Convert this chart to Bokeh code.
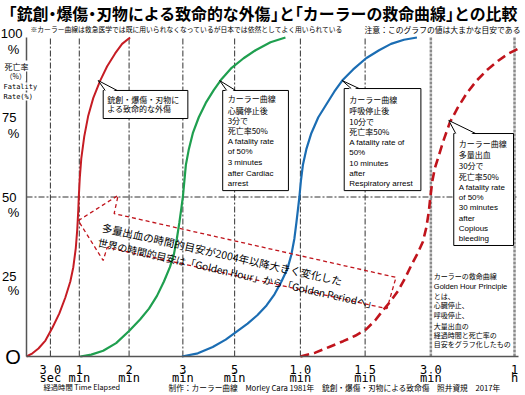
from bokeh.plotting import figure
from bokeh.models import Range1d, FixedTicker, Label, ColumnDataSource, LinearAxis
from bokeh.core.properties import value
from bokeh.embed import file_html
from bokeh.resources import INLINE

JP = "Noto Sans CJK JP"
EN = "Liberation Sans"
MONO = "DejaVu Sans Mono"

# ---------------- data ----------------
title = "「銃創・爆傷・刃物による致命的な外傷」と「カーラーの救命曲線」との比較"
note_left = "※カーラー曲線は救急医学では既に用いられなくなっているが日本では依然としてよく用いられている"
note_right = "注意：このグラフの値は大まかな目安である"
footer_left = "経過時間 Time Elapsed"
footer_right = "制作：カーラー曲線　Morley Cara 1981年　銃創・爆傷・刃物による致命傷　照井資規　2017年"

# irregular time axis: position of each labelled elapsed time
tick_pos = [24, 53, 103, 157, 209, 275, 340, 406, 490]
tick_numbers = ["3 0", "1", "2", "3", "5", "1 0", "1 5", "3 0", "1"]
tick_units = ["sec", "min", "min", "min", "min", "min", "min", "min", "h"]
y_ticks = [0, 25, 50, 75, 100]
y_tick_labels = ["", "25", "50", "75", ""]
x_end, y_end = 494, 100

# fatality (%) curves (axis position, %)
trauma_x = [0, 6, 12, 19, 26, 33, 39, 44, 47, 49.5, 51, 52, 52.5, 53.5, 55, 58, 62, 67, 74, 81, 89, 96, 104]
trauma_y = [0, 1, 2.5, 5, 9, 13.5, 18.5, 23.5, 28, 34, 40, 46, 50, 56, 62, 69, 75.5, 81, 86.5, 91, 95, 98, 100]

cardiac_x = [54, 65, 77, 90, 103, 114, 123, 131, 138, 144, 148, 151, 153.5, 155.5, 157, 158.5, 160, 163, 167, 173, 180, 188, 196, 206, 218, 230, 245, 260]
cardiac_y = [0, 0.6, 1.8, 4.2, 8, 11.6, 15, 19, 23.5, 28, 32, 37, 42, 46.5, 50, 55, 60, 65, 70, 75, 79.5, 83.5, 87, 90.5, 93.5, 96, 98.5, 100]

resp_x = [156, 172, 187, 200, 211, 222, 232, 241, 249, 256, 262, 266, 269, 271, 272.5, 274, 275.5, 277.5, 281, 286, 293, 301, 309, 317, 328, 341, 354, 366, 379, 392]
resp_y = [0, 1, 3, 5.3, 7.8, 10.3, 13, 16, 19.5, 23.5, 27.5, 32, 37, 42, 46, 50, 55, 60, 65, 70, 75, 79, 83, 86.5, 90, 93.5, 96, 98, 99.3, 100]

bleed_x = [275, 290, 304, 318, 330, 341, 350, 358, 366, 373, 380, 387, 393, 398, 401.5, 404, 405.5, 407.5, 410, 414, 419, 425, 433, 442, 452, 463, 474, 484, 494]
bleed_y = [0, 1.2, 3, 4.8, 6.5, 8.5, 11.3, 14.5, 17.5, 20.5, 24.5, 29, 32.5, 36, 40.5, 45.5, 50, 55, 59, 63, 68, 73.3, 78, 82.5, 86.5, 90, 92.8, 95, 96.5]

RED = "#c61c24"
GREEN = "#1f9f4f"
BLUE = "#1b6db3"
DRED = "#c0141c"

# ---------------- layout: frame covers the whole canvas ----------------
W, H = 523, 393
FL, FT, FB, FR = 26, 37, 356, 518       # plot box in canvas pixels
K = (FR - FL) / x_end                  # px per x unit
KY = (FB - FT) / y_end                 # px per y unit
X0 = -FL / K
Y1 = y_end + FT / KY
def dx(fx): return X0 + fx / K
def dy(fy): return Y1 - fy / KY

p = figure(width=W, height=H, x_range=Range1d(X0, X0 + W / K), y_range=Range1d(Y1 - H / KY, Y1),
           output_backend="svg", toolbar_location=None, min_border=0,
           min_border_left=0, min_border_right=0, min_border_top=0, min_border_bottom=0)
p.outline_line_color = None
p.background_fill_color = "white"
p.xgrid.visible = False
p.ygrid.visible = False

# axes, fixed at the origin inside the canvas
p.xaxis.fixed_location = 0
p.yaxis.fixed_location = 0
p.xaxis.bounds = (0, x_end)
p.yaxis.bounds = (0, y_end)
p.xaxis.ticker = FixedTicker(ticks=tick_pos)
p.xaxis.major_label_overrides = dict(zip(tick_pos, tick_numbers))
p.yaxis.ticker = FixedTicker(ticks=y_ticks)
p.yaxis.major_label_overrides = dict(zip(y_ticks, y_tick_labels))
unit_axis = LinearAxis(fixed_location=0, bounds=(0, x_end), ticker=FixedTicker(ticks=tick_pos),
                       major_label_overrides=dict(zip(tick_pos, tick_units)))
p.add_layout(unit_axis, "below")
for ax in (p.xaxis[0], unit_axis, p.yaxis[0]):
    ax.axis_line_color = "#555555"
    ax.axis_line_width = 1.5
    ax.major_tick_line_color = None
    ax.minor_tick_line_color = None
    ax.major_label_text_color = "black"
for ax, so in ((p.xaxis[0], 0), (unit_axis, 8)):
    ax.major_label_text_font = MONO
    ax.major_label_text_font_size = "12px"
    ax.major_label_standoff = so
unit_axis.axis_line_color = None
p.yaxis.major_label_text_font = EN
p.yaxis.major_label_text_font_size = "13px"
p.yaxis.major_label_standoff = 4

# grid lines at the time ticks and at 50 %
p.segment(x0=tick_pos[:7], y0=0, x1=tick_pos[:7], y1=y_end,
          line_color="#333333", line_width=1, line_dash="6 2 2 2")
p.segment(x0=tick_pos[7:], y0=0, x1=tick_pos[7:], y1=y_end,
          line_color="#8a8a8a", line_width=2.5, line_dash="3 1")
p.segment(x0=0, y0=50, x1=x_end, y1=50,
          line_color="#333333", line_width=1, line_dash="6 2 2 2")

# curves
p.line(trauma_x, trauma_y, line_color=RED, line_width=2)
p.line(cardiac_x, cardiac_y, line_color=GREEN, line_width=2.2)
p.line(resp_x, resp_y, line_color=BLUE, line_width=2.2)
p.line(bleed_x, bleed_y, line_color=DRED, line_width=2.6, line_dash="9 5")

# big dashed arrow (annotation)
arrow_x = [52, 92, 88, 371, 362, 81, 77]
arrow_y = [42.6, 50.5, 44.8, 24.8, 15.0, 34.2, 30.1]
p.patch(arrow_x, arrow_y, fill_color=None, line_color=DRED, line_width=1.3, line_dash="4 3")
arrow_src = ColumnDataSource(dict(
    x=[76, 72], y=[40.6, 36.0],
    text=["多量出血の時間的目安が2004年以降大きく変化した",
          "世界の時間的目安は「Golden Hour」から「Golden Periodへ」"],
    size=["10.6px", "10px"]))
p.text(x="x", y="y", text="text", source=arrow_src, angle=-0.222,
       text_font=value(JP), text_font_size="size", text_color="black",
       text_align="left", text_baseline="middle")

# callouts: box (x0, x1, y_bottom, y_top), tip, wedge base
callouts = [
    (77, 162, 74.6, 83.4, (72, 86.5), (79, 91)),
    (197, 263, 52.0, 83.4, (194, 86.5), (201, 210)),
    (319, 396, 52.0, 84.0, (317, 86.5), (326, 334)),
    (429, 489, 34.8, 69.9, (424, 74.0), (431, 451)),
]
p.quad(left=[c[0] for c in callouts], right=[c[1] for c in callouts],
       bottom=[c[2] for c in callouts], top=[c[3] for c in callouts],
       fill_color="white", line_color="black", line_width=1)
wx, wy, lx, ly = [], [], [], []
for x0, x1, yb, yt, tip, base in callouts:
    wx.append([tip[0], base[0], base[1]])
    wy.append([tip[1], yt - 0.6, yt - 0.6])
    lx += [[tip[0], base[0]], [tip[0], base[1]]]
    ly += [[tip[1], yt], [tip[1], yt]]
p.patches(wx, wy, fill_color="white", line_color=None)
p.multi_line(lx, ly, line_color="black", line_width=1)

rows = []
def block(x, ys, lines):
    for y, (t, f, s) in zip(ys, lines):
        rows.append((x, y, t, f, s))

block(81, [80.7, 77.6], [("銃創・爆傷・刃物に", JP, "8px"), ("よる致命的な外傷", JP, "8px")])
block(202, [80.9, 77.1, 74.0, 70.8, 67.4, 64.3, 60.8, 57.4, 54.2],
      [("カーラー曲線", JP, "8px"), ("心臓停止後", JP, "8px"), ("3分で", JP, "8px"),
       ("死亡率50%", JP, "8px"), ("A fatality rate", EN, "8px"), ("of 50%", EN, "8px"),
       ("3 minutes", EN, "8px"), ("after Cardiac", EN, "8px"), ("arrest", EN, "8px")])
block(324, [80.6, 77.1, 73.7, 70.5, 67.1, 63.9, 60.5, 57.4, 54.2],
      [("カーラー曲線", JP, "8px"), ("呼吸停止後", JP, "8px"), ("10分で", JP, "8px"),
       ("死亡率50%", JP, "8px"), ("A fatality rate of", EN, "8px"), ("50%", EN, "8px"),
       ("10 minutes", EN, "8px"), ("after", EN, "8px"), ("Respiratory arrest", EN, "8px")])
block(434, [66.8, 63.3, 59.9, 56.4, 53.0, 49.8, 46.7, 43.3, 40.1, 37.0],
      [("カーラー曲線", JP, "8px"), ("多量出血", JP, "8px"), ("30分で", JP, "8px"),
       ("死亡率50%", JP, "8px"), ("A fatality rate", EN, "8px"), ("of 50%", EN, "8px"),
       ("30 minutes", EN, "8px"), ("after", EN, "8px"), ("Copious", EN, "8px"),
       ("bleeding", EN, "8px")])
block(409, [25.1, 21.9, 19.1, 16.0, 12.9, 9.7, 6.6, 3.8],
      [("カーラーの救命曲線", JP, "7px"), ("Golden Hour Principle", EN, "7.5px"),
       ("とは、", JP, "7px"), ("心臓停止、", JP, "7px"), ("呼吸停止、", JP, "7px"),
       ("大量出血の", JP, "7px"), ("経過時間と死亡率の", JP, "7px"),
       ("目安をグラフ化したもの", JP, "7px")])
txt_src = ColumnDataSource(dict(x=[r[0] for r in rows], y=[r[1] for r in rows],
                                text=[r[2] for r in rows], font=[r[3] for r in rows],
                                size=[r[4] for r in rows]))
p.text(x="x", y="y", text="text", source=txt_src, text_font="font",
       text_font_size="size", text_color="black", text_align="left", text_baseline="middle")

# ---------------- labels around the plot box ----------------
def lab(fx, fy, text, font, size, align="left", baseline="middle", style="normal", bg=None):
    p.add_layout(Label(x=dx(fx), y=dy(fy), text=text, text_font=font, text_font_size=size,
                       text_align=align, text_baseline=baseline, text_font_style=style,
                       text_color="black", background_fill_color=bg))

# title with half-width brackets / middle dots
s = 15.9
pos = 0.0
buf, buf_x = "", 0.0
pieces = []
for ch in title:
    if ch in "「」・":
        if buf:
            pieces.append((buf, buf_x)); buf = ""
        if ch == "「":
            pieces.append((ch, pos - 0.5 * s))
        elif ch == "」":
            pieces.append((ch, pos))
        else:
            pieces.append((ch, pos - 0.25 * s))
        pos += 0.5 * s
    else:
        if not buf:
            buf_x = pos
        buf += ch
        pos += s
if buf:
    pieces.append((buf, buf_x))
for t, off in pieces:
    lab(8.2 + off, 13, t, JP, "%.1fpx" % s, style="bold")

lab(30, 28.5, note_left, JP, "6.8px")
lab(520, 28.5, note_right, JP, "7.8px", align="right")

# y axis title block
lab(4, 65.5, "死亡率", JP, "8px", bg="white")
lab(5, 75.5, "（%）", JP, "7px", bg="white")
lab(3, 86, "Fatality", MONO, "7px", bg="white")
lab(3, 96, "Rate(%)", MONO, "7px", bg="white")

lab(22, 32.5, "100", EN, "13px", align="right")
for fy in [48.5, 132.5, 212, 290]:
    lab(13, fy, "%", EN, "13px", align="center")
lab(12.5, 356.5, "O", EN, "20px", align="center")

lab(43, 386.8, footer_left, JP, "7.3px")
lab(168, 386.8, footer_right, JP, "7.7px")

open("out.html", "w").write(file_html(p, INLINE))
